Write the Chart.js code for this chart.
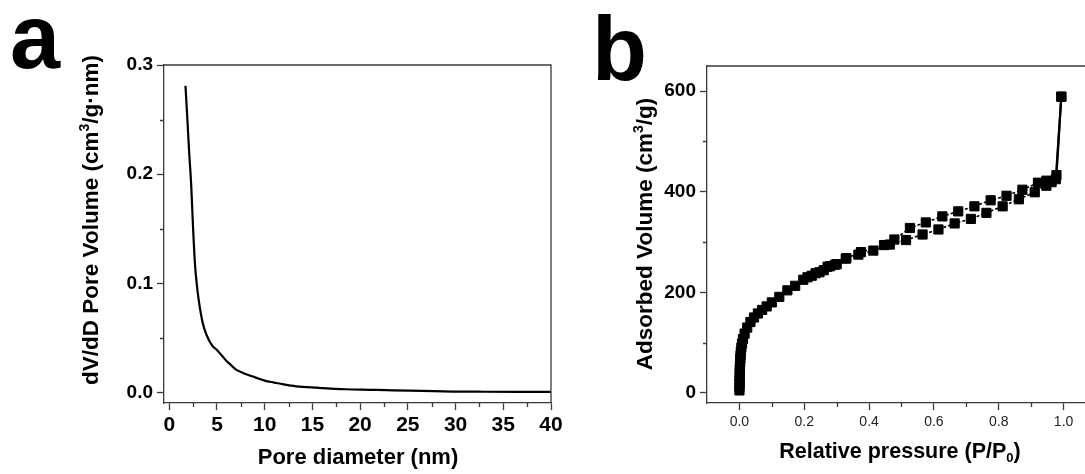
<!DOCTYPE html>
<html>
<head>
<meta charset="utf-8">
<script src="https://cdn.jsdelivr.net/npm/chart.js@4.4.0/dist/chart.umd.min.js"></script>
<style>
html, body { margin: 0; padding: 0; background: #fff; overflow: hidden; width: 1085px; height: 474px; }
canvas { position: absolute; top: 0; }
#ca { left: 0; }
#cb { left: 560px; }
</style>
</head>
<body>
<canvas id="ca" width="580" height="474"></canvas>
<canvas id="cb" width="545" height="474"></canvas>
<script>
const FONT = '"Liberation Sans", Arial, sans-serif';
const AXIS = '#3a3a3a';

// ── panel a: pore size distribution ──
const poreDiameter = [1.7, 1.9, 2.1, 2.3, 2.5, 2.7, 2.9, 3.1, 3.5, 3.9, 4.5, 5.0, 5.5, 6.0, 6.5, 7.0, 7.5, 8.0, 9.0, 10.0, 11.0, 12.0, 13.3, 15.5, 18.5, 21.0, 23.5, 26.5, 29.7, 33.0, 36.5, 40.0];
const poreVolume   = [0.281, 0.250, 0.218, 0.190, 0.150, 0.117, 0.098, 0.084, 0.064, 0.053, 0.043, 0.039, 0.034, 0.029, 0.025, 0.021, 0.019, 0.017, 0.014, 0.011, 0.0092, 0.0075, 0.0058, 0.0045, 0.0031, 0.0026, 0.0021, 0.0016, 0.0010, 0.0008, 0.0007, 0.0007];
const poreXTicks = [0, 5, 10, 15, 20, 25, 30, 35, 40];
const poreXMinor = [2.5, 7.5, 12.5, 17.5, 22.5, 27.5, 32.5, 37.5];
const poreYTicks = [0, 0.1, 0.2, 0.3];
const poreYMinor = [0.05, 0.15, 0.25];

// ── panel b: nitrogen isotherm ──
const adsP = [0.0001, 0.0002, 0.0004, 0.0006, 0.0008, 0.001, 0.0013, 0.0017, 0.0022, 0.0028, 0.0035, 0.0045, 0.006, 0.008, 0.011, 0.016, 0.024, 0.034, 0.045, 0.057, 0.07, 0.084, 0.1, 0.123, 0.148, 0.172, 0.197, 0.223, 0.247, 0.272, 0.295, 0.328, 0.367, 0.413, 0.464, 0.514, 0.565, 0.614, 0.664, 0.714, 0.762, 0.812, 0.862, 0.911, 0.947, 0.963, 0.976, 0.993];
const adsV = [5, 12, 19, 26, 33, 40, 47, 54, 61, 68, 75, 82, 90, 98, 107, 118, 130, 141, 150, 158, 165, 172, 180, 191, 204, 213, 225, 233, 240, 251, 255, 267, 275, 283, 295, 304, 315, 325, 337, 346, 358, 371, 385, 399, 412, 419, 425, 589];
const desP = [0.993, 0.978, 0.947, 0.921, 0.873, 0.824, 0.775, 0.725, 0.675, 0.626, 0.575, 0.526, 0.478, 0.446, 0.375, 0.33, 0.30, 0.28, 0.26, 0.235, 0.21];
const desV = [589, 433, 422, 418, 404, 392, 383, 371, 361, 351, 339, 328, 305, 294, 280, 268, 256, 252, 244, 238, 230];
const isoXTicks = [0, 0.2, 0.4, 0.6, 0.8, 1.0];
const isoXMinor = [0.1, 0.3, 0.5, 0.7, 0.9];
const isoYTicks = [0, 200, 400, 600];
const isoYMinor = [100, 300, 500];

Chart.defaults.font.family = FONT;
Chart.defaults.color = '#000';
Chart.defaults.devicePixelRatio = 1;

function drawRich(ctx, parts, size) {
    const big = 'bold ' + size + 'px ' + FONT;
    const small = 'bold ' + Math.round(size * 0.62) + 'px ' + FONT;
    let total = 0;
    parts.forEach(p => {
        ctx.font = (p.sup || p.sub) ? small : big;
        p.w = ctx.measureText(p.t).width;
        total += p.w;
    });
    let x = -total / 2;
    ctx.textBaseline = 'middle';
    ctx.textAlign = 'left';
    parts.forEach(p => {
        ctx.font = (p.sup || p.sub) ? small : big;
        const dy = p.sup ? -size * 0.3 : p.sub ? size * 0.3 : 0;
        ctx.fillText(p.t, x, dy);
        x += p.w;
    });
}

// frame, minor ticks, titles and panel letter
function framePlugin(cfg) {
    return {
        id: 'frame',
        afterDraw(chart) {
            const ctx = chart.ctx;
            const a = chart.chartArea;
            const sx = chart.scales.x, sy = chart.scales.y;
            ctx.save();
            ctx.strokeStyle = AXIS;
            ctx.lineWidth = 1.3;
            ctx.beginPath();
            ctx.moveTo(a.left, a.top);
            ctx.lineTo(a.right, a.top);
            ctx.lineTo(a.right, a.bottom);
            cfg.minorX.forEach(v => {
                const px = Math.round(sx.getPixelForValue(v)) + 0.5;
                ctx.moveTo(px, a.bottom);
                ctx.lineTo(px, a.bottom + 4);
            });
            cfg.minorY.forEach(v => {
                const py = Math.round(sy.getPixelForValue(v)) + 0.5;
                ctx.moveTo(a.left, py);
                ctx.lineTo(a.left - 4, py);
            });
            ctx.stroke();

            ctx.fillStyle = '#000';
            ctx.save();
            ctx.translate(cfg.yTitle.x, cfg.yTitle.y);
            ctx.rotate(-Math.PI / 2);
            drawRich(ctx, cfg.yTitle.parts, cfg.yTitle.size);
            ctx.restore();

            ctx.save();
            ctx.translate(cfg.xTitle.x, cfg.xTitle.y);
            drawRich(ctx, cfg.xTitle.parts, cfg.xTitle.size);
            ctx.restore();

            ctx.font = 'bold 90px ' + FONT;
            ctx.textAlign = 'left';
            ctx.textBaseline = 'alphabetic';
            ctx.fillText(cfg.letter.t, cfg.letter.x, cfg.letter.y);
            ctx.restore();
        }
    };
}

function axis(min, max, tickList, fmt, fontOpts, pad, fit) {
    return {
        type: 'linear',
        min, max,
        afterBuildTicks: s => { s.ticks = tickList.map(v => ({ value: v })); },
        afterFit: fit,
        ticks: {
            autoSkip: false,
            maxRotation: 0,
            padding: pad,
            color: fontOpts.color || '#000',
            font: { size: fontOpts.size, weight: fontOpts.weight },
            callback: v => fmt(v)
        },
        grid: {
            drawOnChartArea: false,
            drawTicks: true,
            tickLength: 7,
            tickColor: AXIS,
            tickWidth: 1.3
        },
        border: { display: true, color: AXIS, width: 1.3 }
    };
}

new Chart(document.getElementById('ca'), {
    type: 'line',
    data: {
        datasets: [{
            data: poreDiameter.map((d, i) => ({ x: d, y: poreVolume[i] })),
            borderColor: '#000',
            borderWidth: 2.2,
            pointRadius: 0,
            cubicInterpolationMode: 'monotone',
            fill: false
        }]
    },
    options: {
        responsive: false,
        animation: false,
        layout: { padding: { left: 0, top: 65, right: 29, bottom: 0 } },
        plugins: { legend: { display: false }, tooltip: { enabled: false } },
        scales: {
            x: axis(-0.55, 40, poreXTicks, v => String(v), { size: 21, weight: 'bold' }, 3, s => { s.height = 71; }),
            y: axis(-0.0095, 0.3, poreYTicks, v => v.toFixed(1), { size: 19, weight: 'bold' }, 4, s => { s.width = 164; })
        }
    },
    plugins: [framePlugin({
        minorX: poreXMinor,
        minorY: poreYMinor,
        letter: { t: 'a', x: 10, y: 68 },
        yTitle: { x: 92, y: 220, size: 22.5, parts: [{ t: 'dV/dD Pore Volume (cm' }, { t: '3', sup: true }, { t: '/g·nm)' }] },
        xTitle: { x: 358, y: 458, size: 22, parts: [{ t: 'Pore diameter (nm)' }] }
    })]
});

const isJump = ctx => Math.abs(ctx.p1.parsed.y - ctx.p0.parsed.y) > 100;

new Chart(document.getElementById('cb'), {
    type: 'scatter',
    data: {
        datasets: [{
            data: adsP.map((p, i) => ({ x: p, y: adsV[i] })),
            showLine: true,
            borderColor: '#000',
            backgroundColor: '#000',
            borderWidth: 1.6,
            pointStyle: 'rect',
            pointRadius: 6.5,
            pointBorderWidth: 1,
            segment: { borderDash: ctx => isJump(ctx) ? [] : [3, 2], borderWidth: ctx => isJump(ctx) ? 2.2 : 1.6 }
        }, {
            data: desP.map((p, i) => ({ x: p, y: desV[i] })),
            showLine: true,
            borderColor: '#000',
            backgroundColor: '#000',
            borderWidth: 1.6,
            pointStyle: 'rect',
            pointRadius: 6.5,
            pointBorderWidth: 1,
            segment: { borderDash: ctx => isJump(ctx) ? [] : [3, 2], borderWidth: ctx => isJump(ctx) ? 2.2 : 1.6 }
        }]
    },
    options: {
        responsive: false,
        animation: false,
        layout: { padding: { left: 0, top: 66, right: 9, bottom: 0 } },
        plugins: { legend: { display: false }, tooltip: { enabled: false } },
        scales: {
            x: axis(-0.1, 1.1, isoXTicks, v => v.toFixed(1), { size: 14, weight: 'normal', color: '#222' }, 4, s => { s.height = 71; }),
            y: axis(-20, 650, isoYTicks, v => String(v), { size: 19, weight: 'bold' }, 4, s => { s.width = 147; })
        }
    },
    plugins: [framePlugin({
        minorX: isoXMinor,
        minorY: isoYMinor,
        letter: { t: 'b', x: 32, y: 80 },
        yTitle: { x: 86, y: 234, size: 22.5, parts: [{ t: 'Adsorbed Volume (cm' }, { t: '3', sup: true }, { t: '/g)' }] },
        xTitle: { x: 340, y: 452, size: 21.5, parts: [{ t: 'Relative pressure (P/P' }, { t: '0', sub: true }, { t: ')' }] }
    })]
});
</script>
</body>
</html>
